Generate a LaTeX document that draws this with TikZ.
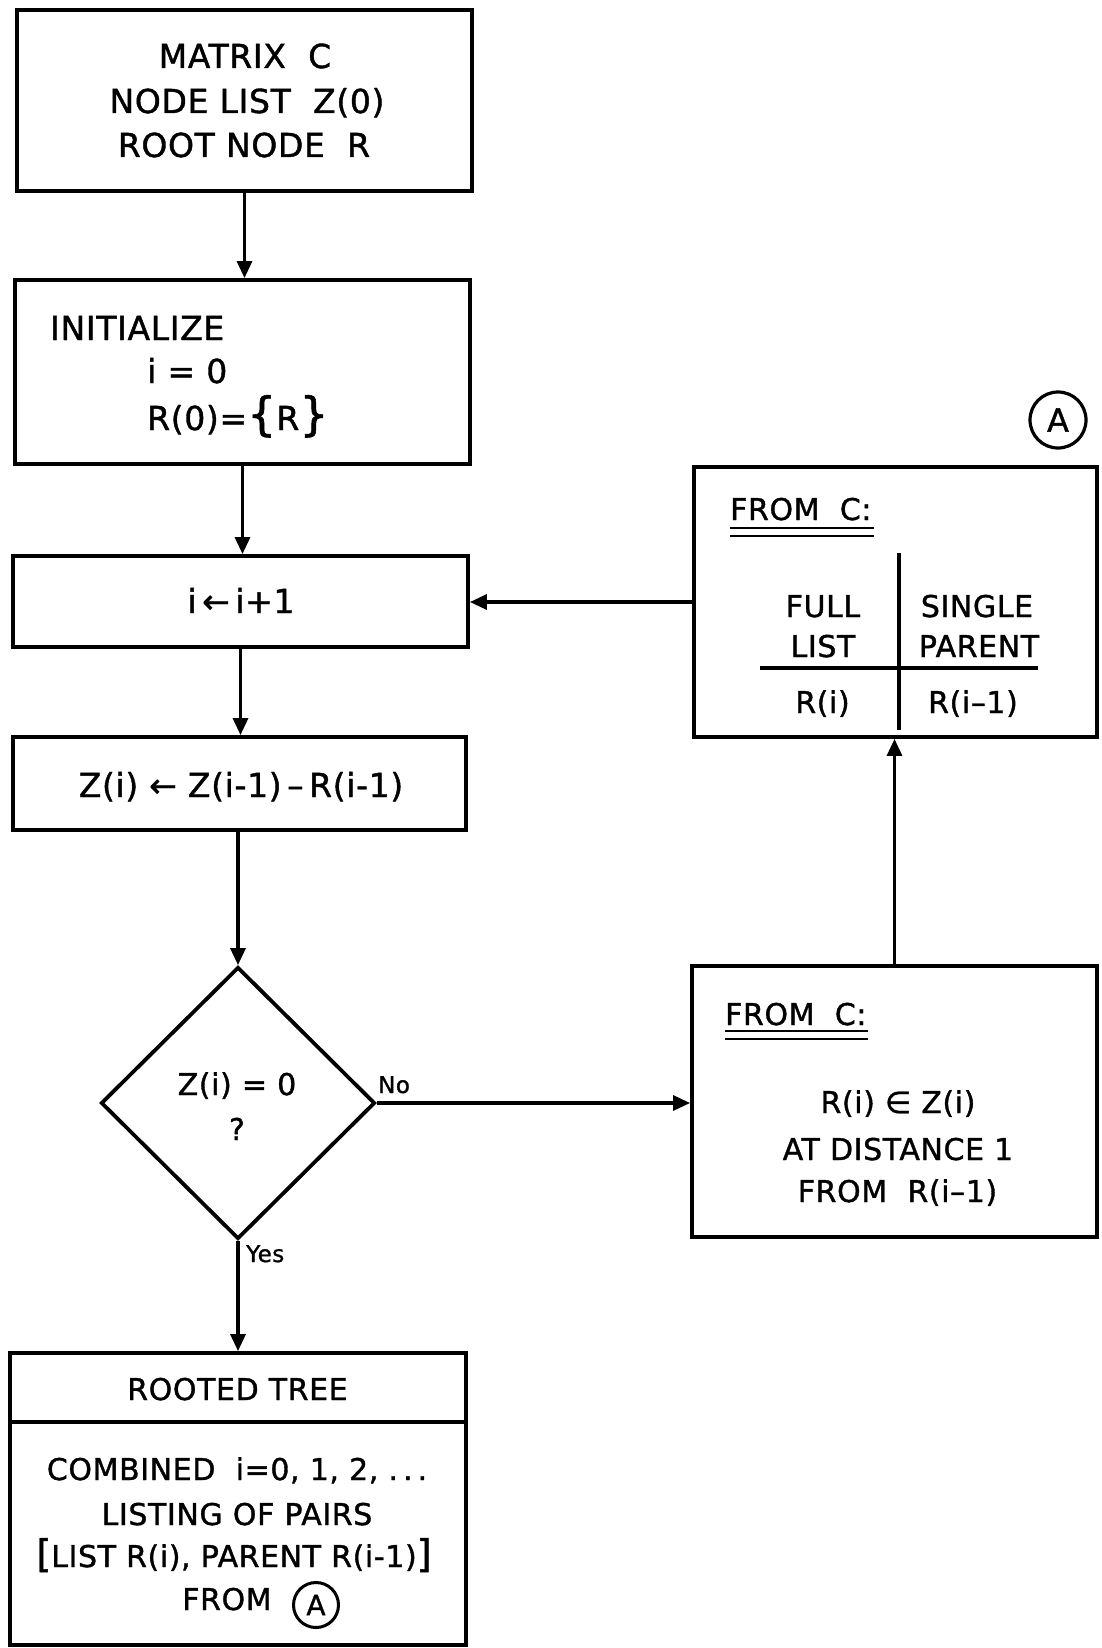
\documentclass[tikz,border=0pt]{standalone}
\usepackage{fontspec}
\setmainfont{DejaVu Sans}[FakeBold=1.2,LetterSpace=2]
\newfontfamily\symf{DejaVu Sans}[FakeBold=1.2]
\usetikzlibrary{arrows.meta,shapes.geometric}
\begin{document}
\begin{tikzpicture}[x=1pt,y=-1pt,
  box/.style={draw,line width=3.8pt,inner sep=0pt},
  conn/.style={line width=3.2pt,-{Triangle[length=17pt,width=15pt]}},
  txt/.style={font=\fontsize{33}{40}\selectfont,inner sep=0pt,anchor=base},
  stxt/.style={font=\fontsize{30}{38}\selectfont,inner sep=0pt,anchor=base},
  lbl/.style={font=\fontsize{23}{28}\selectfont,inner sep=0pt,anchor=base west},
  uline/.style={line width=2.4pt},
  tline/.style={line width=3.2pt}]
\useasboundingbox (0,0) rectangle (1101,1648);
\fill[white] (0,0) rectangle (1101,1648);

% boxes
\node[box,minimum width=455pt,minimum height=181pt] (b1) at (244.5,100.5) {};
\node[box,minimum width=455pt,minimum height=184pt] (b2) at (242.5,372) {};
\node[box,minimum width=455pt,minimum height=91pt] (b3) at (240.5,601.5) {};
\node[box,minimum width=453pt,minimum height=93pt] (b4) at (239.5,783.5) {};
\node[box,diamond,minimum width=274pt,minimum height=272pt] (dia) at (238,1103) {};
\node[box,minimum width=456pt,minimum height=292pt] (rt) at (238,1499) {};
\node[box,minimum width=403pt,minimum height=270pt] (bA) at (895.5,602) {};
\node[box,minimum width=405pt,minimum height=271pt] (bB) at (894.5,1101.5) {};
\node[draw,circle,line width=3.2pt,minimum size=56pt,inner sep=0pt,font=\fontsize{32}{32}\selectfont] (cA) at (1058,420) {A};

% box 1 text
\node[txt] (t1a) at (245,68) {MATRIX\ \ C};
\node[txt] (t1b) at (247,113) {NODE LIST\ \ Z(0)};
\node[txt] (t1c) at (244,157) {ROOT NODE\ \ R};

% box 2 text
\node[txt,anchor=base west] (t2a) at (50,340) {INITIALIZE};
\node[txt,anchor=base west] (t2b) at (147,383) {i = 0};
\node[txt,anchor=base west] (t2c) at (147,430) {R(0)={\fontsize{46}{46}\selectfont\{}R{\fontsize{46}{46}\selectfont\}}};

% box 3, 4 text
\node[txt] (t3) at (241,613) {i\,{\symf ←}\,i+1};
\node[txt] (t4) at (241,797) {Z(i)\,\,{\symf ←}\,\,Z(i-1)\,--\,R(i-1)};

% diamond text
\node[stxt] (td1) at (237,1095) {Z(i) = 0};
\node[stxt] (td2) at (237,1140) {?};
\node[lbl] (no) at (378,1093) {No};
\node[lbl] (yes) at (246,1262) {Yes};

% bottom box text
\draw[line width=3.8pt] (rt.west |- 0,1422) -- (rt.east |- 0,1422);
\node[stxt] (r1) at (237.5,1400) {ROOTED TREE};
\node[stxt] (r2) at (237,1480) {COMBINED\ \ i=0, 1, 2, .\,.\,.};
\node[stxt] (r3) at (237,1525) {LISTING OF PAIRS};
\node[stxt] (r4) at (234,1567) {{\fontsize{38}{38}\selectfont[}LIST R(i), PARENT R(i-1){\fontsize{38}{38}\selectfont]}};
\node[stxt] (r5) at (227,1610) {FROM};
\node[draw,circle,line width=3pt,minimum size=45pt,inner sep=0pt,font=\fontsize{28}{28}\selectfont] (cA2) at (316,1605) {A};

% box A text
\node[stxt,anchor=base west] (fa) at (730,520) {FROM\ \ C:};
\draw[uline] (730,528) -- (874,528);
\draw[uline] (730,536) -- (874,536);
\node[stxt] (fl1) at (823,617) {FULL};
\node[stxt] (fl2) at (823,657) {LIST};
\node[stxt] (sp1) at (977,617) {SINGLE};
\node[stxt] (sp2) at (979,657) {PARENT};
\node[stxt] (ri) at (822.5,713) {R(i)};
\node[stxt] (ri1) at (973,713) {R(i--1)};
\draw[tline] (899,553) -- (899,730);
\draw[tline] (760,668) -- (1038,668);

% box B text
\node[stxt,anchor=base west] (fb) at (725,1025) {FROM\ \ C:};
\draw[uline] (725,1031) -- (868,1031);
\draw[uline] (725,1039) -- (868,1039);
\node[stxt] (bb1) at (898,1113) {R(i)\ {\symf ∈}\ Z(i)};
\node[stxt] (bb2) at (898,1160) {AT DISTANCE 1};
\node[stxt] (bb3) at (897.5,1202) {FROM\ \ R(i--1)};

% connectors
\draw[conn] (b1.south) -- (b1.south |- b2.north);
\draw[conn] (b2.south) -- (b2.south |- b3.north);
\draw[conn] (b3.south) -- (b3.south |- b4.north);
\draw[conn] (dia.north |- b4.south) -- (dia.north);
\draw[conn] (dia.south) -- (dia.south |- rt.north);
\draw[conn] (dia.east) -- (dia.east -| bB.west);
\draw[conn] (bB.north) -- (bB.north |- bA.south);
\draw[conn] (bA.west) -- (bA.west -| b3.east);
\end{tikzpicture}
\end{document}
